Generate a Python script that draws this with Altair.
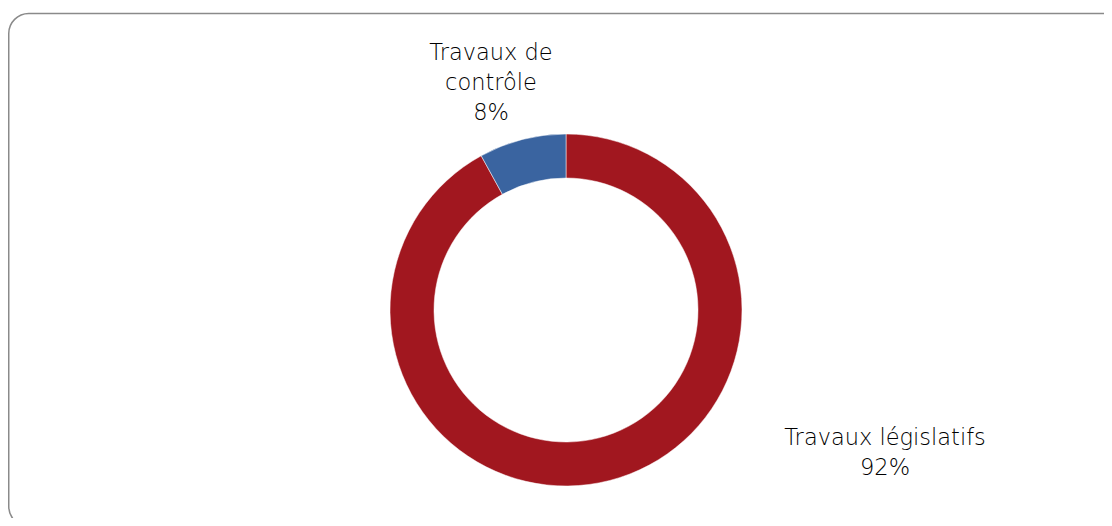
import altair as alt
import pandas as pd

categories = ["Travaux législatifs", "Travaux de\ncontrôle"]
values = [92, 8]
colors = ["#A1171F", "#3A64A0"]
order = [0, 1]

df = pd.DataFrame({
    "cat": categories,
    "val": values,
    "ord": order,
})
df["label"] = df["cat"] + "\n" + df["val"].astype(str) + "%"

CX, CY = 558, 302

base = alt.Chart(df)

border = alt.Chart(pd.DataFrame({"b": [0]})).mark_rect(
    fill=None, stroke="#8a8a8a", strokeWidth=1.5, cornerRadius=20
).encode(x=alt.value(0.75), x2=alt.value(1125), y=alt.value(5.5), y2=alt.value(518.5))

arc = base.mark_arc(outerRadius=176, innerRadius=132, stroke="white", strokeWidth=0.5).encode(
    theta=alt.Theta("val:Q", stack=True),
    order=alt.Order("ord:Q"),
    color=alt.Color("cat:N", scale=alt.Scale(domain=categories, range=colors), legend=None),
    x=alt.value(CX),
    y=alt.value(CY),
)

txt_style = dict(font="DejaVu Sans", fontSize=22.5, fontWeight=300, color="#000000",
                 align="center", baseline="alphabetic", lineBreak="\n", lineHeight=30)

t1 = base.transform_filter(alt.datum.ord == 1).mark_text(**txt_style).encode(
    text="label:N", x=alt.value(483), y=alt.value(52))
t2 = base.transform_filter(alt.datum.ord == 0).mark_text(**txt_style).encode(
    text="label:N", x=alt.value(877), y=alt.value(437))

chart = alt.layer(border, arc, t1, t2).properties(
    width=1096, height=510,
    padding=0,
    autosize=alt.AutoSizeParams(type="none"),
).configure_view(stroke=None)

chart.save("out.html", embed_options={"renderer": "svg", "actions": False})
